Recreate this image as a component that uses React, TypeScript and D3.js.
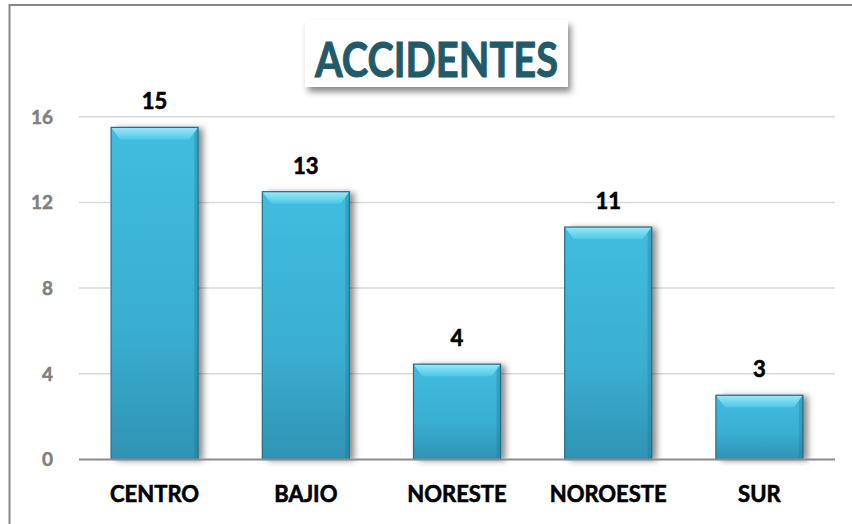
import React, { useEffect, useRef } from 'react';
import * as d3 from 'd3';

const categories = ['CENTRO', 'BAJIO', 'NORESTE', 'NOROESTE', 'SUR'];
const values = [15.5, 12.5, 4.45, 10.85, 3.0];
const valueLabels = ['15', '13', '4', '11', '3'];
const yTicks = [0, 4, 8, 12, 16];
const title = 'ACCIDENTES';

const App = () => {
  const chartRef = useRef<HTMLDivElement>(null);

  useEffect(() => {
    d3.select(chartRef.current).selectAll('*').remove(); // Clear old chart

    const width = 852;
    const height = 524;
    const font = "Lato, 'Open Sans', sans-serif";

    const svg = d3
      .select(chartRef.current)
      .append('svg')
      .attr('width', width)
      .attr('height', height)
      .style('position', 'absolute')
      .style('left', 0)
      .style('top', 0)
      .style('background', '#fff');

    const defs = svg.append('defs');

    const body = defs
      .append('linearGradient')
      .attr('id', 'barBody')
      .attr('x1', 0).attr('y1', 0).attr('x2', 0).attr('y2', 1);
    body.append('stop').attr('offset', '0%').attr('stop-color', '#40bde0');
    body.append('stop').attr('offset', '60%').attr('stop-color', '#3aaed1');
    body.append('stop').attr('offset', '100%').attr('stop-color', '#2f93b4');

    const bevel = defs
      .append('linearGradient')
      .attr('id', 'barBevel')
      .attr('x1', 0).attr('y1', 0).attr('x2', 0).attr('y2', 1);
    bevel.append('stop').attr('offset', '0%').attr('stop-color', '#9be9f9');
    bevel.append('stop').attr('offset', '100%').attr('stop-color', '#4ec8e7');

    const shadow = defs.append('filter').attr('id', 'barShadow')
      .attr('x', '-20%').attr('y', '-10%').attr('width', '150%').attr('height', '120%');
    shadow.append('feDropShadow')
      .attr('dx', 5).attr('dy', 1).attr('stdDeviation', 3)
      .attr('flood-color', '#000').attr('flood-opacity', 0.45);

    const boxShadow = defs.append('filter').attr('id', 'boxShadow')
      .attr('x', '-10%').attr('y', '-20%').attr('width', '130%').attr('height', '160%');
    boxShadow.append('feDropShadow')
      .attr('dx', 3).attr('dy', 5).attr('stdDeviation', 3)
      .attr('flood-color', '#000').attr('flood-opacity', 0.45);

    // outer frame
    svg.append('path')
      .attr('d', `M9.5,${height} L9.5,5 L${width},5`)
      .attr('fill', 'none')
      .attr('stroke', '#878787')
      .attr('stroke-width', 2);

    const x = d3.scaleBand().domain(categories).range([79, 835])
      .paddingInner(0.4246).paddingOuter(0.2123);
    const y = d3.scaleLinear().domain([0, 16]).range([459.5, 116.7]);

    // gridlines
    svg.selectAll('.grid')
      .data(yTicks.filter((t) => t !== 0))
      .enter()
      .append('line')
      .attr('x1', 79).attr('x2', 835)
      .attr('y1', (d) => y(d)).attr('y2', (d) => y(d))
      .attr('stroke', '#d9d9d9')
      .attr('stroke-width', 1.5);

    // tick labels
    svg.selectAll('.tick')
      .data(yTicks)
      .enter()
      .append('text')
      .text((d) => d)
      .attr('x', 53)
      .attr('y', (d) => y(d))
      .attr('dy', '0.36em')
      .attr('text-anchor', 'end')
      .style('font-family', font)
      .style('font-weight', 'bold')
      .style('font-size', '19px')
      .style('fill', '#7f7f7f')
      .style('stroke', '#7f7f7f')
      .style('stroke-width', 0.5);

    const bars = svg.selectAll('.bar')
      .data(categories)
      .enter()
      .append('g')
      .attr('filter', 'url(#barShadow)');

    const bw = x.bandwidth();
    const bv = 9; // bevel inset
    const bh = 12; // bevel height

    bars.append('rect')
      .attr('x', (d) => x(d)!)
      .attr('y', (d, i) => y(values[i]))
      .attr('width', bw)
      .attr('height', (d, i) => y(0) - y(values[i]))
      .attr('fill', 'url(#barBody)');

    // right side darkening
    bars.append('rect')
      .attr('x', (d) => x(d)! + bw - 4)
      .attr('y', (d, i) => y(values[i]))
      .attr('width', 4)
      .attr('height', (d, i) => y(0) - y(values[i]))
      .attr('fill', '#1d6f8a')
      .attr('opacity', 0.3);

    // top bevel
    bars.append('path')
      .attr('d', (d, i) => {
        const x0 = x(d)!;
        const t = y(values[i]);
        return `M${x0},${t} L${x0 + bw},${t} L${x0 + bw - bv},${t + bh} L${x0 + bv},${t + bh} Z`;
      })
      .attr('fill', 'url(#barBevel)');

    svg.selectAll('.edge')
      .data(categories)
      .enter()
      .append('rect')
      .attr('x', (d) => x(d)!)
      .attr('y', (d, i) => y(values[i]))
      .attr('width', bw)
      .attr('height', (d, i) => y(0) - y(values[i]))
      .attr('fill', 'none')
      .attr('stroke', '#1f6f87')
      .attr('stroke-width', 1.2);

    // zero axis
    svg.append('line')
      .attr('x1', 79).attr('x2', 835)
      .attr('y1', y(0)).attr('y2', y(0))
      .attr('stroke', '#8c8c8c')
      .attr('stroke-width', 2);

    // value labels
    svg.selectAll('.val')
      .data(categories)
      .enter()
      .append('text')
      .text((d, i) => valueLabels[i])
      .attr('x', (d) => x(d)! + bw / 2)
      .attr('y', (d, i) => y(values[i]) - 18)
      .attr('text-anchor', 'middle')
      .style('font-family', font)
      .style('font-weight', 'bold')
      .style('font-size', '22px')
      .style('fill', '#000')
      .style('stroke', '#000')
      .style('stroke-width', 0.6);

    // category labels
    svg.selectAll('.cat')
      .data(categories)
      .enter()
      .append('text')
      .text((d) => d)
      .attr('x', (d) => x(d)! + bw / 2)
      .attr('y', 502)
      .attr('text-anchor', 'middle')
      .style('font-family', font)
      .style('font-weight', 'bold')
      .style('font-size', '22px')
      .style('fill', '#000')
      .style('stroke', '#000')
      .style('stroke-width', 0.6);

    // title box
    svg.append('rect')
      .attr('x', 305).attr('y', 20)
      .attr('width', 263).attr('height', 67)
      .attr('fill', '#fff')
      .attr('filter', 'url(#boxShadow)');
    svg.append('text')
      .text(title)
      .attr('x', 315)
      .attr('y', 77)
      .attr('textLength', 243)
      .attr('lengthAdjust', 'spacingAndGlyphs')
      .style('font-family', font)
      .style('font-weight', 'bold')
      .style('font-size', '48px')
      .style('fill', '#215a69')
      .style('stroke', '#215a69')
      .style('stroke-width', 1);
  }, []);

  return <div ref={chartRef}></div>;
};

export default App;
